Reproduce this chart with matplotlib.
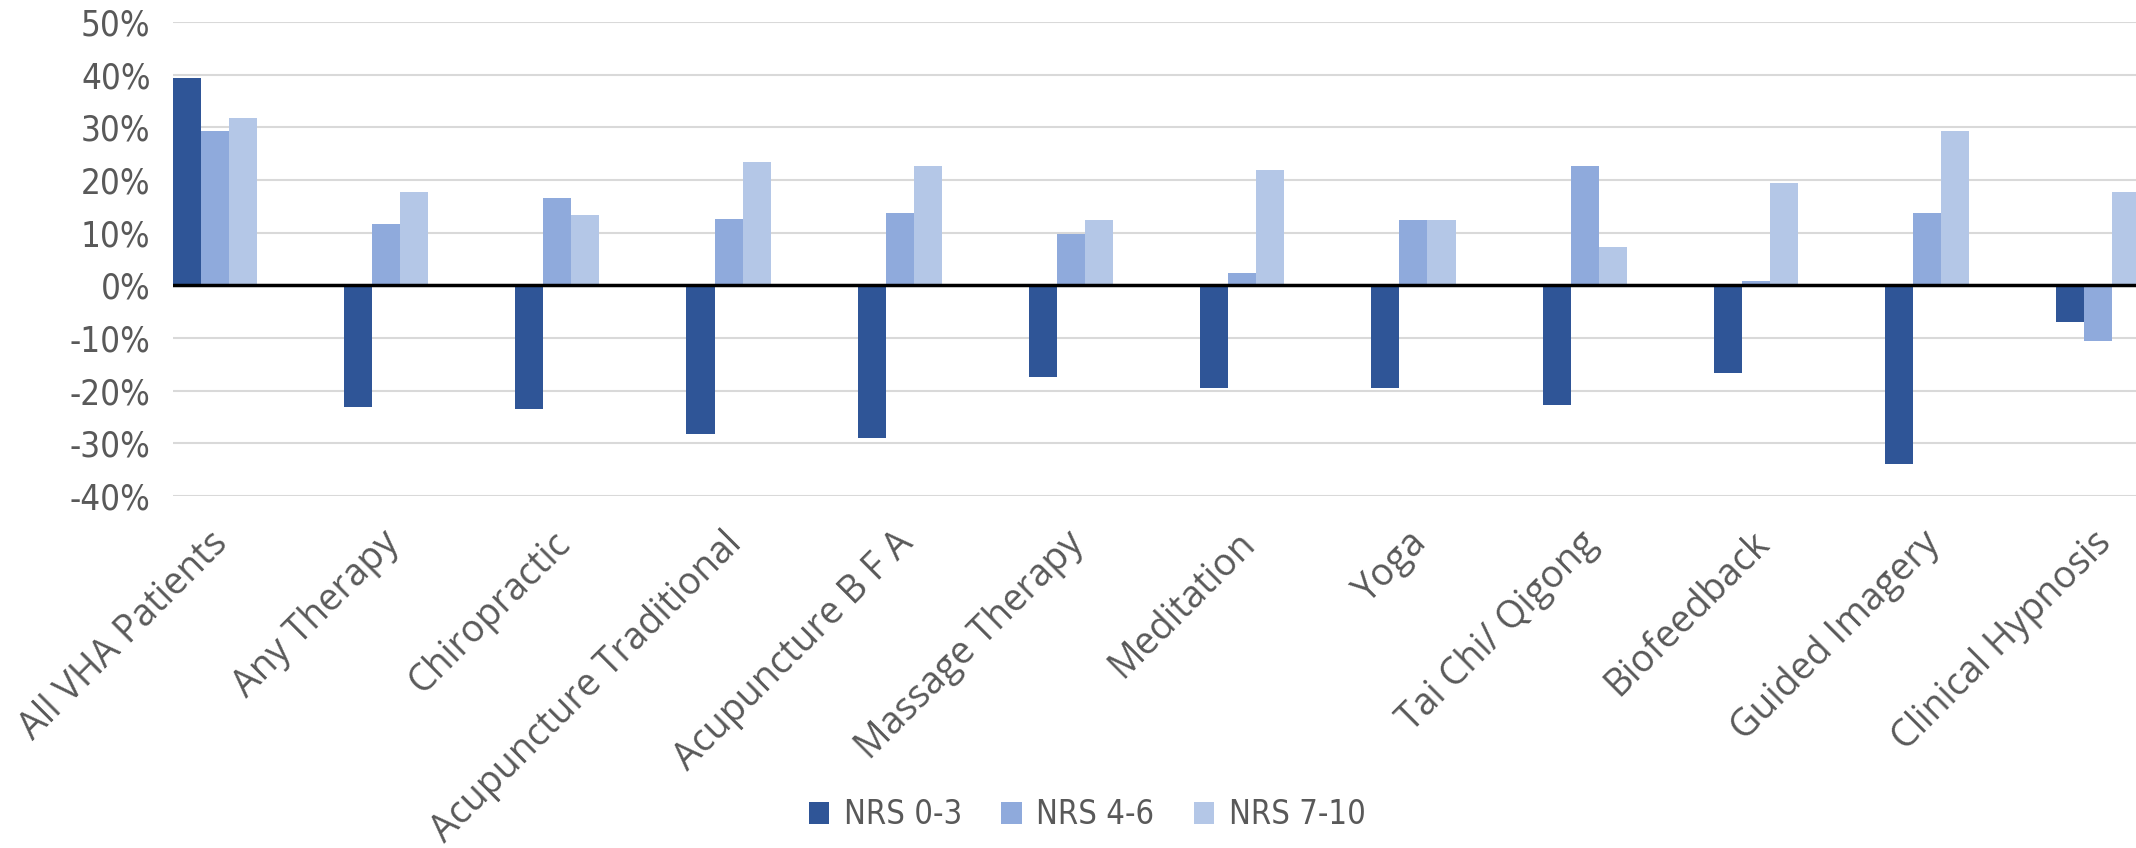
import matplotlib
matplotlib.use("Agg")
import matplotlib.pyplot as plt
from matplotlib import font_manager
from matplotlib.font_manager import FontProperties
from matplotlib.patches import Patch
from matplotlib.ticker import FuncFormatter, MultipleLocator
import numpy as np

# Change in share of patients by pain-score group, per therapy (percent)
categories = [
    "All VHA Patients", "Any Therapy", "Chiropractic", "Acupuncture Traditional",
    "Acupuncture B F A", "Massage Therapy", "Meditation", "Yoga",
    "Tai Chi/ Qigong", "Biofeedback", "Guided Imagery", "Clinical Hypnosis",
]
series_names = ["NRS 0-3", "NRS 4-6", "NRS 7-10"]
nrs_0_3 = [39.4, -23.1, -23.5, -28.2, -29.0, -17.4, -19.5, -19.5, -22.8, -16.7, -33.9, -7.0]
nrs_4_6 = [29.3, 11.6, 16.6, 12.6, 13.7, 9.7, 2.3, 12.5, 22.7, 0.8, 13.7, -10.6]
nrs_7_10 = [31.8, 17.7, 13.4, 23.5, 22.7, 12.5, 21.9, 12.5, 7.2, 19.4, 29.3, 17.7]
y_ticks = [50, 40, 30, 20, 10, 0, -10, -20, -30, -40]

colors = ["#2F5597", "#8FAADC", "#B4C7E7"]
text_color = "#595959"


def narrow_font(size):
    """Pick a narrow sans face for tick and legend text."""
    entries = font_manager.fontManager.ttflist
    for f in entries:
        if f.name == "Liberation Sans Narrow" and f.style == "normal" and f.weight in (400, "normal"):
            return FontProperties(fname=f.fname, size=size)
    for f in entries:
        if f.fname.rsplit("/", 1)[-1] == "DejaVuSansCondensed.ttf":
            return FontProperties(fname=f.fname, size=size)
    return FontProperties(family="DejaVu Sans", stretch="condensed", size=size)


installed = {f.name for f in font_manager.fontManager.ttflist}
label_font = "Open Sans" if "Open Sans" in installed else "DejaVu Sans"

fig = plt.figure(figsize=(21.36, 8.48), dpi=100)
ax = fig.add_axes([0.0809, 0.415, 1.0 - 0.0809, 0.559])

x = np.arange(len(categories))
w = 0.164
for k, (vals, col) in enumerate(zip([nrs_0_3, nrs_4_6, nrs_7_10], colors)):
    ax.bar(x + (k - 1) * w, vals, width=w, color=col, edgecolor="none",
           zorder=3, label=series_names[k])

ax.set_xlim(-1.5 * w, 11.22)
ax.set_ylim(min(y_ticks), max(y_ticks))
ax.yaxis.set_major_locator(MultipleLocator(10))
ax.yaxis.set_major_formatter(FuncFormatter(lambda v, p: f"{v:.0f}%"))
ax.grid(axis="y", color="#D9D9D9", linewidth=1.5, zorder=0)
ax.axhline(0, color="black", linewidth=2.5, zorder=4)

for s in ax.spines.values():
    s.set_visible(False)

tick_fp = narrow_font(25)
ax.tick_params(axis="y", length=0, pad=16, labelcolor=text_color)
for t in ax.get_yticklabels():
    t.set_fontproperties(tick_fp)

ax.set_xticks(x)
ax.set_xticklabels([])
ax.tick_params(axis="x", length=0, pad=0)

# Rotated category labels hung from each group centre
for i, name in enumerate(categories):
    ax.annotate(name, xy=(i, 0), xycoords=("data", "axes fraction"),
                xytext=(-6, -28), textcoords="offset pixels",
                rotation=45, ha="right", va="top", rotation_mode="anchor",
                fontsize=27, color=text_color, family=label_font,
                annotation_clip=False)

handles = [Patch(facecolor=c, edgecolor="none") for c in colors]
fig.legend(handles, series_names, loc="center", bbox_to_anchor=(0.509, 0.039),
           ncol=3, frameon=False, prop=narrow_font(23.5),
           labelcolor=text_color, handlelength=0.62, handleheight=0.62,
           handletextpad=0.45, columnspacing=1.2)

fig.savefig("out.png", dpi=100, facecolor="white")
